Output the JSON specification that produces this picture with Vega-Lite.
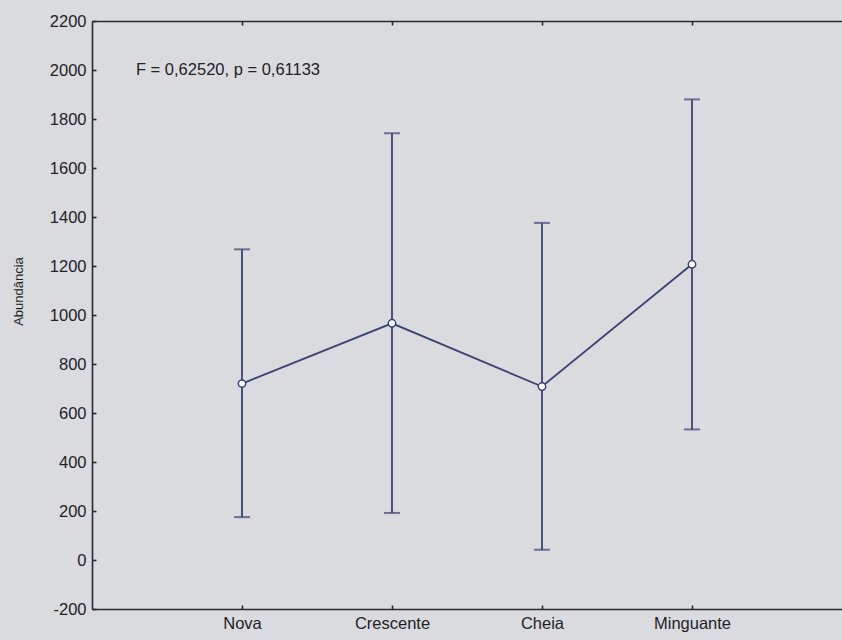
{
  "$schema": "https://vega.github.io/schema/vega-lite/v6.json",
  "autosize": {"type": "none"},
  "padding": {"left": 92, "top": 21, "right": 0, "bottom": 31},
  "width": 750,
  "height": 588,
  "background": "#dadbdf",
  "config": {
    "view": {"stroke": null},
    "font": "Liberation Sans",
    "axis": {
      "domainColor": "#2a2a2e",
      "domainWidth": 1.6,
      "tickColor": "#2a2a2e",
      "tickWidth": 1.6,
      "tickSize": -4,
      "labelColor": "#222226",
      "labelFontSize": 16.5,
      "titleColor": "#222226",
      "grid": false
    }
  },
  "data": {
    "values": [
      {"fase": "Nova", "media": 720, "inf": 175, "sup": 1268},
      {"fase": "Crescente", "media": 966, "inf": 192, "sup": 1742},
      {"fase": "Cheia", "media": 708, "inf": 42, "sup": 1376},
      {"fase": "Minguante", "media": 1207, "inf": 533, "sup": 1880}
    ]
  },
  "resolve": {"axis": {"x": "independent"}},
  "layer": [
    {
      "mark": {"type": "line", "color": "#3c4272", "strokeWidth": 1.8},
      "encoding": {
        "x": {
          "field": "fase", "type": "ordinal", "sort": null,
          "scale": {"type": "point", "padding": 1},
          "axis": {"orient": "bottom", "title": null, "labelAngle": 0, "labelPadding": 10}
        },
        "y": {
          "field": "media", "type": "quantitative",
          "scale": {"domain": [-200, 2200], "nice": false, "zero": false},
          "axis": {
            "title": "Abundância", "titleFontSize": 13, "titleFontWeight": "normal",
            "values": [-200, 0, 200, 400, 600, 800, 1000, 1200, 1400, 1600, 1800, 2000, 2200],
            "labelExpr": "datum.value + ''",
            "labelPadding": 10, "titlePadding": 24, "titleY": 270
          }
        }
      }
    },
    {
      "mark": {"type": "rule", "color": "#3c4272", "strokeWidth": 1.8},
      "encoding": {
        "x": {
          "field": "fase", "type": "ordinal", "sort": null,
          "axis": {"orient": "top", "title": null, "labels": false}
        },
        "y": {"field": "inf", "type": "quantitative"},
        "y2": {"field": "sup"}
      }
    },
    {
      "mark": {"type": "tick", "color": "#3c4272", "size": 16, "thickness": 2},
      "encoding": {
        "x": {"field": "fase", "type": "ordinal", "sort": null, "axis": null},
        "y": {"field": "inf", "type": "quantitative"}
      }
    },
    {
      "mark": {"type": "tick", "color": "#3c4272", "size": 16, "thickness": 2},
      "encoding": {
        "x": {"field": "fase", "type": "ordinal", "sort": null, "axis": null},
        "y": {"field": "sup", "type": "quantitative"}
      }
    },
    {
      "mark": {"type": "point", "shape": "circle", "filled": true, "fill": "#ffffff", "stroke": "#3c4272", "strokeWidth": 1.5, "size": 55, "opacity": 1},
      "encoding": {
        "x": {"field": "fase", "type": "ordinal", "sort": null, "axis": null},
        "y": {"field": "media", "type": "quantitative"}
      }
    },
    {
      "data": {"values": [{"rotulo": "F = 0,62520, p = 0,61133"}]},
      "mark": {"type": "text", "fontSize": 16.5, "color": "#222226", "align": "center", "baseline": "middle", "dx": -14},
      "encoding": {
        "x": {"datum": "Nova", "type": "ordinal", "axis": null},
        "y": {"datum": 2000, "type": "quantitative"},
        "text": {"field": "rotulo"}
      }
    }
  ]
}
